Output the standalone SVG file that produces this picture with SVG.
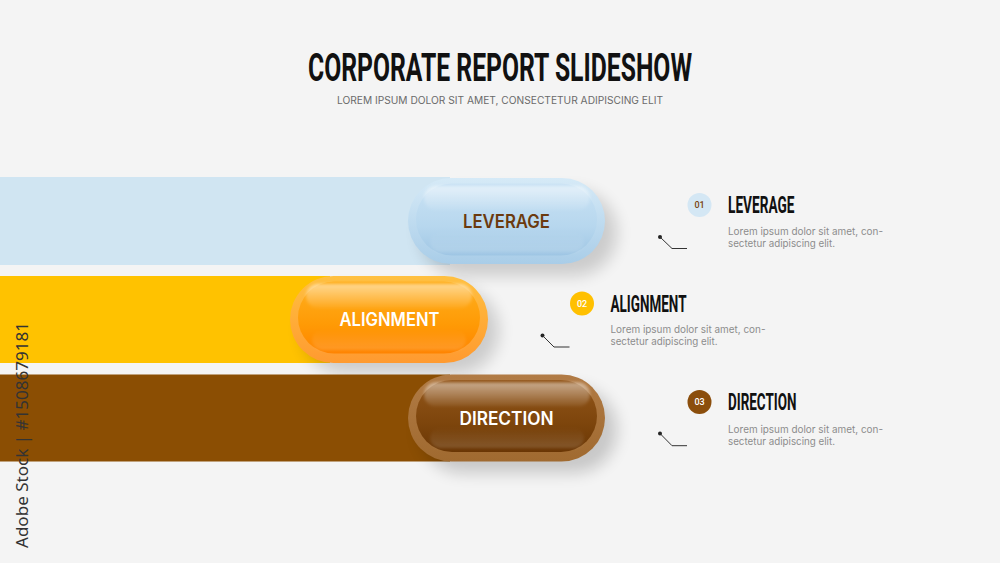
<svg xmlns="http://www.w3.org/2000/svg" width="1000" height="563" viewBox="0 0 1000 563">
<defs>
<style>
.title{font-family:Roboto,"Liberation Sans",sans-serif;font-weight:700;fill:#111}
.sub{font-family:Inter,"Noto Sans",sans-serif;font-size:10px;fill:#6a6a6a}
.pilltxt{font-family:Inter,"Noto Sans",sans-serif;font-weight:600;font-size:18px;text-anchor:middle}
.head{font-family:Roboto,"Liberation Sans",sans-serif;font-weight:700;font-size:23px;fill:#111}
.body{font-family:Inter,"Noto Sans",sans-serif;font-size:10.5px;fill:#8c8c8c}
.num{font-family:Roboto,"Liberation Sans",sans-serif;font-weight:500;font-size:9px;text-anchor:middle}
.conn{fill:none;stroke:#333;stroke-width:1}
.gloss{filter:url(#soft)}
</style>
<filter id="blur" x="-30%" y="-50%" width="160%" height="200%"><feGaussianBlur stdDeviation="8"/></filter>
<filter id="soft" x="-10%" y="-40%" width="120%" height="180%"><feGaussianBlur stdDeviation="1.5"/></filter>
<linearGradient id="o1" x1="0" y1="0" x2="0" y2="1"><stop offset="0" stop-color="#d6eaf7"/><stop offset="1" stop-color="#a9cde8"/></linearGradient>
<linearGradient id="i1" x1="0" y1="0" x2="0" y2="1"><stop offset="0" stop-color="#c9e2f4"/><stop offset="0.6" stop-color="#b7d7ee"/><stop offset="1" stop-color="#9fc6e4"/></linearGradient>
<linearGradient id="o2" x1="0" y1="0" x2="0" y2="1"><stop offset="0" stop-color="#ffc040"/><stop offset="1" stop-color="#ff9a30"/></linearGradient>
<linearGradient id="i2" x1="0" y1="0" x2="0" y2="1"><stop offset="0" stop-color="#ffb020"/><stop offset="0.6" stop-color="#ff9a05"/><stop offset="1" stop-color="#ff8400"/></linearGradient>
<linearGradient id="o3" x1="0" y1="0" x2="0" y2="1"><stop offset="0" stop-color="#b17b45"/><stop offset="1" stop-color="#a06a30"/></linearGradient>
<linearGradient id="i3" x1="0" y1="0" x2="0" y2="1"><stop offset="0" stop-color="#93561a"/><stop offset="0.6" stop-color="#7d450c"/><stop offset="1" stop-color="#6a3604"/></linearGradient>
<linearGradient id="hl" x1="0" y1="0" x2="0" y2="1"><stop offset="0" stop-color="#fff" stop-opacity="0.5"/><stop offset="1" stop-color="#fff" stop-opacity="0.05"/></linearGradient>
<linearGradient id="lo" x1="0" y1="0" x2="0" y2="1"><stop offset="0" stop-color="#fff" stop-opacity="0"/><stop offset="1" stop-color="#fff" stop-opacity="0.15"/></linearGradient>
</defs>
<rect x="0" y="0" width="1000" height="563" fill="#f4f4f4"/>

<g id="header">
<text class="title" x="500" y="81" font-size="39" text-anchor="middle" textLength="384" lengthAdjust="spacingAndGlyphs">CORPORATE REPORT SLIDESHOW</text>
<text class="sub" x="500" y="103.5" text-anchor="middle" textLength="326" lengthAdjust="spacingAndGlyphs">LOREM IPSUM DOLOR SIT AMET, CONSECTETUR ADIPISCING ELIT</text>
</g>

<g id="node-leverage">
<rect x="0" y="177" width="450" height="88" fill="#d0e5f2"/>
<rect x="420" y="190" width="197" height="86" rx="43" fill="#000" opacity="0.16" filter="url(#blur)"/>
<rect x="408" y="178" width="197" height="86" rx="43" fill="url(#o1)"/>
<rect x="416" y="183.5" width="181" height="72" rx="36" fill="url(#i1)"/>
<rect class="gloss" x="424" y="186" width="166" height="24" rx="12" fill="url(#hl)"/>
<rect class="gloss" x="430" y="232" width="154" height="20" rx="10" fill="url(#lo)"/>
<text class="pilltxt" x="506.5" y="227.5" fill="#6b3a0e" textLength="87" lengthAdjust="spacingAndGlyphs">LEVERAGE</text>
</g>

<g id="node-alignment">
<rect x="0" y="276" width="330" height="87" fill="#ffc200"/>
<rect x="302" y="288" width="197" height="86" rx="43" fill="#000" opacity="0.16" filter="url(#blur)"/>
<rect x="290" y="276" width="198" height="87" rx="43.5" fill="url(#o2)"/>
<rect x="298" y="281.5" width="182" height="72" rx="36" fill="url(#i2)"/>
<rect class="gloss" x="306" y="284" width="166" height="24" rx="12" fill="url(#hl)"/>
<rect class="gloss" x="312" y="330" width="154" height="20" rx="10" fill="url(#lo)"/>
<text class="pilltxt" x="389.5" y="326" fill="#fff" textLength="100" lengthAdjust="spacingAndGlyphs">ALIGNMENT</text>
</g>

<g id="node-direction">
<rect x="0" y="374.5" width="450" height="87" fill="#8b4e03"/>
<rect x="420" y="387" width="197" height="86" rx="43" fill="#000" opacity="0.18" filter="url(#blur)"/>
<rect x="408" y="374.5" width="197" height="87" rx="43.5" fill="url(#o3)"/>
<rect x="416" y="380" width="181" height="72" rx="36" fill="url(#i3)"/>
<rect class="gloss" x="424" y="382.5" width="166" height="24" rx="12" fill="url(#hl)"/>
<rect class="gloss" x="430" y="428" width="154" height="20" rx="10" fill="url(#lo)"/>
<text class="pilltxt" x="506.5" y="424.5" fill="#fff" textLength="94" lengthAdjust="spacingAndGlyphs">DIRECTION</text>
</g>

<g id="info-leverage">
<circle cx="699.5" cy="205" r="12" fill="#d4e7f4"/>
<text class="num" x="699.5" y="208.3" fill="#7a430e">01</text>
<text class="head" x="728" y="213.3" textLength="66.5" lengthAdjust="spacingAndGlyphs">LEVERAGE</text>
<text class="body" x="728" y="235" textLength="155" lengthAdjust="spacingAndGlyphs">Lorem ipsum dolor sit amet, con-</text>
<text class="body" x="728" y="247" textLength="107" lengthAdjust="spacingAndGlyphs">sectetur adipiscing elit.</text>
</g>

<g id="info-alignment">
<circle cx="582" cy="303.5" r="12" fill="#ffc000"/>
<text class="num" x="582" y="306.8" fill="#fff">02</text>
<text class="head" x="610.5" y="311.7" textLength="76" lengthAdjust="spacingAndGlyphs">ALIGNMENT</text>
<text class="body" x="610.5" y="333.3" textLength="155" lengthAdjust="spacingAndGlyphs">Lorem ipsum dolor sit amet, con-</text>
<text class="body" x="610.5" y="345.3" textLength="107" lengthAdjust="spacingAndGlyphs">sectetur adipiscing elit.</text>
</g>

<g id="info-direction">
<circle cx="699.5" cy="402" r="12" fill="#8b4e0c"/>
<text class="num" x="699.5" y="405.3" fill="#fff">03</text>
<text class="head" x="728" y="410.3" textLength="68.5" lengthAdjust="spacingAndGlyphs">DIRECTION</text>
<text class="body" x="728" y="432.5" textLength="155" lengthAdjust="spacingAndGlyphs">Lorem ipsum dolor sit amet, con-</text>
<text class="body" x="728" y="444.5" textLength="107" lengthAdjust="spacingAndGlyphs">sectetur adipiscing elit.</text>
</g>

<g id="connectors">
<circle cx="660" cy="237" r="2" fill="#222"/>
<polyline class="conn" points="660,237 672,248.5 687,248.5"/>
<circle cx="542.5" cy="335.5" r="2" fill="#222"/>
<polyline class="conn" points="542.5,335.5 554,347 569.5,347"/>
<circle cx="660" cy="433.5" r="2" fill="#222"/>
<polyline class="conn" points="660,433.5 672,445.7 687,445.7"/>
</g>

<text x="0" y="0" transform="translate(28,548) rotate(-90)" font-family="'Noto Sans','Liberation Sans',sans-serif" font-size="17" fill="#333" textLength="226" lengthAdjust="spacingAndGlyphs">Adobe Stock | #1508679181</text>
</svg>
